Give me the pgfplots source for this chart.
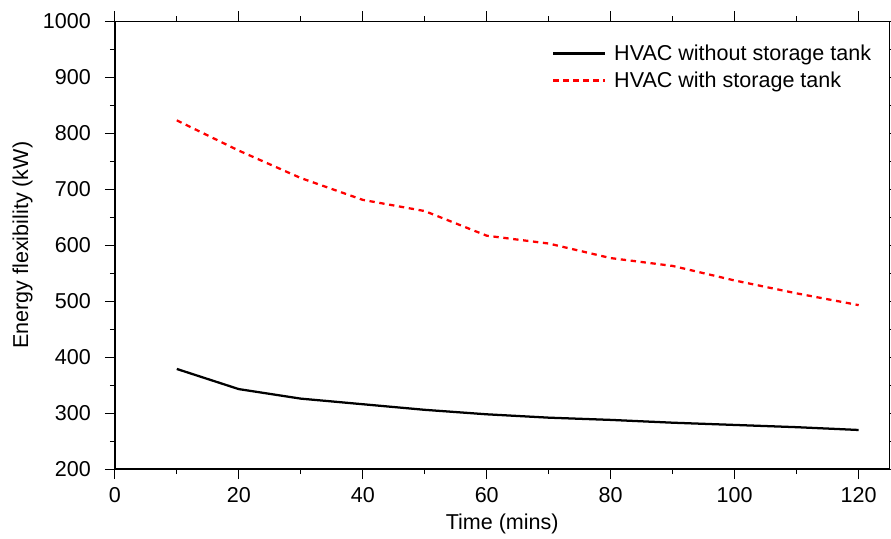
\documentclass[border=0pt]{standalone}
\usepackage{pgfplots}
\pgfplotsset{compat=1.18}
\usepackage{fontspec}
\setmainfont{Liberation Sans}

\pgfplotstableread{
x    y
10   379
20   343
30   326
40   316
50   306
60   298
70   292
80   288
90   283
100  279
110  275
120  270
}\without

\pgfplotstableread{
x    y
10   823
20   769
30   720
40   681
50   661
60   617
70   603
80   577
90   563
100  537
110  514
120  493
}\withtank

\begin{document}
\begin{tikzpicture}
	\begin{axis}[
		scale only axis,
		width=583pt,
		height=337pt,
		xmin=0, xmax=125,
		ymin=200, ymax=1000,
		xtick={0,20,...,120},
		ytick={200,300,...,1000},
		minor x tick num=1,
		minor y tick num=1,
		tick pos=both,
		tick align=outside,
		major tick length=7.5pt,
		minor tick length=3.75pt,
		every tick/.style={black, line width=1pt},
		axis line style={line width=1.1pt},
		font=\fontsize{16.2}{19}\selectfont,
		/pgf/number format/assume math mode=true,
		/pgf/number format/set thousands separator={},
		yticklabel style={xshift=-7pt},
		xticklabel style={yshift=-3pt},
		xlabel={Time (mins)},
		ylabel={Energy flexibility (kW)},
		xlabel style={yshift=-1pt},
		ylabel style={yshift=1pt},
		legend cell align=left,
		legend style={draw=none, fill=none, at={(0.985,0.96)}, anchor=north east,
			font=\fontsize{16.2}{19}\selectfont, row sep=3pt, column sep=4pt},
		legend image code/.code={\draw[#1] (0cm,0cm) -- (1.37cm,0cm);},
	]
		% without storage tank
		\addplot[black, line width=1.7pt] table[x=x, y=y] {\without};
		% with storage tank
		\addplot[red, line width=1.7pt, dash pattern=on 4pt off 3.5pt] table[x=x, y=y] {\withtank};
		\legend{HVAC without storage tank, HVAC with storage tank}
	\end{axis}
	\pgfresetboundingbox
	\useasboundingbox ([xshift=-6pt]current axis.outer south west) rectangle ([xshift=1pt,yshift=16pt]current axis.north east);
\end{tikzpicture}
\end{document}
